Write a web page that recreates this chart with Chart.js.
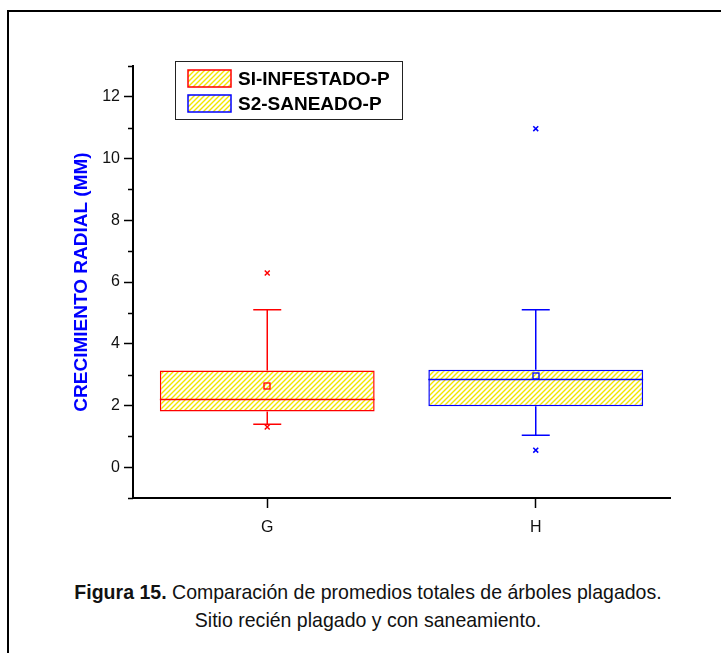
<!DOCTYPE html>
<html>
<head>
<meta charset="utf-8">
<script src="https://cdn.jsdelivr.net/npm/chart.js@4"></script>
<style>
  html, body { margin: 0; padding: 0; background: #fff; overflow: hidden; }
  body { width: 721px; height: 653px; position: relative; }
  #frame { position: absolute; left: 7px; top: 10px; width: 800px; height: 700px;
           border-top: 2px solid #000; border-left: 2px solid #000; }
  #chartWrap { position: absolute; left: 0; top: 0; width: 721px; height: 560px; }
  #caption { position: absolute; left: 0; top: 578px; width: 736px; text-align: center;
             font-family: "Liberation Sans Narrow", "Arial Narrow", "Liberation Sans", sans-serif;
             font-size: 21px; line-height: 28px; color: #111;
             transform: scaleX(0.93); transform-origin: 368px 0; }
  #caption b { font-weight: bold; }
</style>
</head>
<body>
<div id="frame"></div>
<div id="chartWrap"><canvas id="boxChart" width="721" height="560"></canvas></div>
<div id="caption">
  <div><b>Figura 15.</b> Comparación de promedios totales de árboles plagados.</div>
  <div>Sitio recién plagado y con saneamiento.</div>
</div>
<script>
// data
const categories = ["G", "H"];
const seriesNames = ["SI-INFESTADO-P", "S2-SANEADO-P"];
const q1 = [1.80, 1.97];
const q3 = [3.13, 3.16];
const medians = [2.19, 2.84];
const means = [2.64, 2.94];
const whiskerLow = [1.39, 1.03];
const whiskerHigh = [5.10, 5.10];
const outliersG = [6.29, 1.30];
const outliersH = [10.97, 0.55];
const yTicks = [0, 2, 4, 6, 8, 10, 12];

const colors = ["#ff0000", "#0000ff"];
const FONT = "'Liberation Sans', Arial, sans-serif";

function hatch() {
  const c = document.createElement("canvas");
  c.width = 5; c.height = 5;
  const g = c.getContext("2d");
  g.fillStyle = "#ffffff";
  g.fillRect(0, 0, 5, 5);
  g.strokeStyle = "#f2e600";
  g.lineWidth = 1.4;
  g.beginPath();
  g.moveTo(-1, 6); g.lineTo(6, -1);
  g.moveTo(-1, 1); g.lineTo(1, -1);
  g.moveTo(4, 6); g.lineTo(6, 4);
  g.stroke();
  return g.createPattern(c, "repeat");
}
const pattern = hatch();

// whiskers, caps, medians, minor ticks and the legend box
const boxExtras = {
  id: "boxExtras",
  afterDatasetsDraw(chart) {
    const { ctx, scales: { x, y } } = chart;
    const meta0 = chart.getDatasetMeta(0);
    const meta1 = chart.getDatasetMeta(1);
    ctx.save();
    categories.forEach((cat, i) => {
      const bar = (i === 0 ? meta0 : meta1).data[i];
      const cx = x.getPixelForValue(i);
      const half = bar.width / 2;
      ctx.strokeStyle = colors[i];
      ctx.lineWidth = 1.5;
      ctx.beginPath();
      // whiskers
      ctx.moveTo(cx, y.getPixelForValue(q3[i]));
      ctx.lineTo(cx, y.getPixelForValue(whiskerHigh[i]));
      ctx.moveTo(cx, y.getPixelForValue(q1[i]));
      ctx.lineTo(cx, y.getPixelForValue(whiskerLow[i]));
      // caps
      ctx.moveTo(cx - 14, y.getPixelForValue(whiskerHigh[i]));
      ctx.lineTo(cx + 14, y.getPixelForValue(whiskerHigh[i]));
      ctx.moveTo(cx - 14, y.getPixelForValue(whiskerLow[i]));
      ctx.lineTo(cx + 14, y.getPixelForValue(whiskerLow[i]));
      // median
      ctx.moveTo(cx - half, y.getPixelForValue(medians[i]));
      ctx.lineTo(cx + half, y.getPixelForValue(medians[i]));
      ctx.stroke();
      // mean marker
      const my = y.getPixelForValue(means[i]);
      ctx.lineWidth = 1.3;
      ctx.strokeRect(Math.round(cx) - 3, Math.round(my) - 3, 6, 6);
    });
    // minor ticks
    ctx.strokeStyle = "#000";
    ctx.lineWidth = 1.5;
    ctx.beginPath();
    for (let v = y.min; v <= y.max; v++) {
      if (v % 2 === 0) continue;
      const py = Math.round(y.getPixelForValue(v)) + 0.5;
      ctx.moveTo(x.left - 5, py);
      ctx.lineTo(x.left, py);
    }
    ctx.stroke();
    // legend
    const lx = 175, ly = 61, lw = 227, lh = 58;
    ctx.strokeStyle = "#222";
    ctx.lineWidth = 1;
    ctx.strokeRect(lx + 0.5, ly + 0.5, lw, lh);
    ctx.font = "bold 19px " + FONT;
    ctx.textBaseline = "middle";
    seriesNames.forEach((name, i) => {
      const sy = ly + 9 + i * 25;
      ctx.fillStyle = pattern;
      ctx.fillRect(lx + 13, sy, 43, 17);
      ctx.strokeStyle = colors[i];
      ctx.lineWidth = 1.5;
      ctx.strokeRect(lx + 13, sy, 43, 17);
      ctx.fillStyle = "#000";
      ctx.fillText(name, lx + 63, sy + 9.5);
    });
    ctx.restore();
  }
};

new Chart(document.getElementById("boxChart"), {
  type: "bar",
  data: {
    labels: categories,
    datasets: [
      {
        label: seriesNames[0],
        data: [[q1[0], q3[0]], null],
        backgroundColor: pattern,
        borderColor: colors[0],
        borderWidth: 1.5,
        borderSkipped: false,
        grouped: false,
        barPercentage: 0.8,
        categoryPercentage: 1
      },
      {
        label: seriesNames[1],
        data: [null, [q1[1], q3[1]]],
        backgroundColor: pattern,
        borderColor: colors[1],
        borderWidth: 1.5,
        borderSkipped: false,
        grouped: false,
        barPercentage: 0.8,
        categoryPercentage: 1
      },
      {
        type: "line",
        label: "out G",
        data: outliersG.map(v => ({ x: categories[0], y: v })),
        showLine: false,
        pointStyle: "crossRot",
        pointRadius: 3.5,
        pointBorderWidth: 1.5,
        pointBorderColor: colors[0]
      },
      {
        type: "line",
        label: "out H",
        data: outliersH.map(v => ({ x: categories[1], y: v })),
        showLine: false,
        pointStyle: "crossRot",
        pointRadius: 3.5,
        pointBorderWidth: 1.5,
        pointBorderColor: colors[1]
      }
    ]
  },
  options: {
    responsive: false,
    animation: false,
    layout: { padding: { left: 70, top: 66, right: 51, bottom: 0 } },
    plugins: { legend: { display: false }, tooltip: { enabled: false } },
    scales: {
      x: {
        type: "category",
        offset: true,
        afterFit: s => { s.height = 62; },
        border: { color: "#000", width: 2 },
        grid: { offset: false, drawOnChartArea: false, tickLength: 10, tickColor: "#000", tickWidth: 1.5 },
        ticks: { color: "#111", font: { family: FONT, size: 16 }, padding: 10 }
      },
      y: {
        min: -1,
        max: 13,
        afterFit: s => { s.width = 63; },
        afterBuildTicks: s => {
          const t = [];
          for (let v = -1; v <= 13; v++) t.push({ value: v });
          s.ticks = t;
        },
        border: { color: "#000", width: 2 },
        grid: {
          drawOnChartArea: false,
          tickLength: 9,
          tickWidth: 1.5,
          tickColor: c => (yTicks.includes(c.tick.value) ? "#000" : "rgba(0,0,0,0)")
        },
        ticks: {
          autoSkip: false,
          color: "#111",
          padding: 4,
          font: { family: FONT, size: 16 },
          callback: v => (yTicks.includes(v) ? v : "")
        },
        title: {
          display: true,
          text: "CRECIMIENTO RADIAL (MM)",
          color: "#0000ff",
          font: { family: FONT, size: 19, weight: "bold" },
          padding: { top: 0, bottom: 0 }
        }
      }
    }
  },
  plugins: [boxExtras]
});
</script>
</body>
</html>
